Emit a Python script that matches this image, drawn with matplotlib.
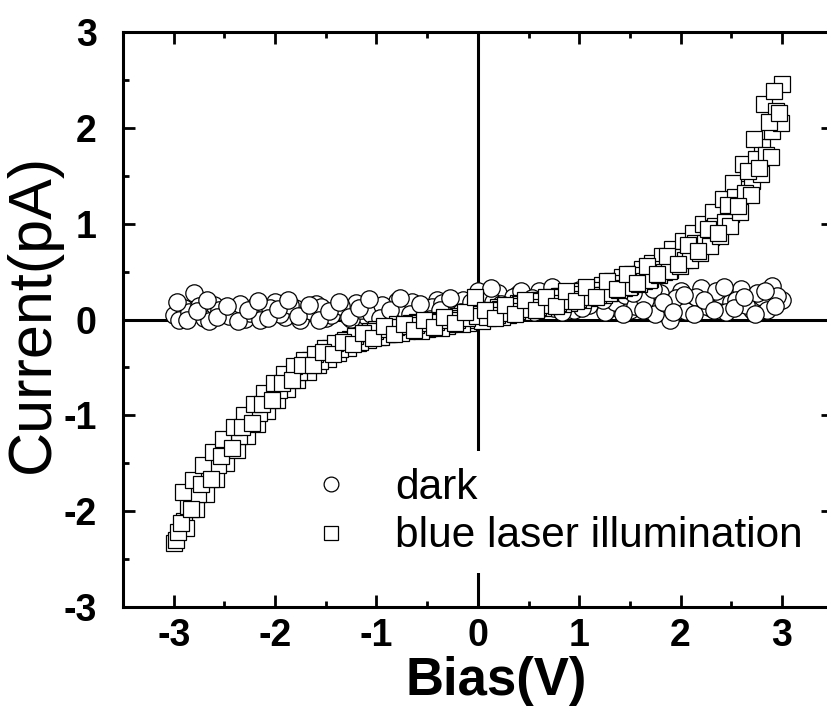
import numpy as np
import matplotlib
matplotlib.use('Agg')
import matplotlib.pyplot as plt
from matplotlib import rcParams
from matplotlib.ticker import MultipleLocator

rcParams['font.family'] = ['Liberation Sans', 'DejaVu Sans']
rcParams['axes.unicode_minus'] = False

# dark: three bias sweeps
dark_x1 = [-3.0, -2.9, -2.8, -2.7, -2.6, -2.5, -2.4, -2.3, -2.2, -2.1,
           -2.0, -1.9, -1.8, -1.7, -1.6, -1.5, -1.4, -1.3, -1.2, -1.1,
           -1.0, -0.9, -0.8, -0.7, -0.6, -0.5, -0.4, -0.3, -0.2, -0.1,
           0.0, 0.1, 0.2, 0.3, 0.4, 0.5, 0.6, 0.7, 0.8, 0.9,
           1.0, 1.1, 1.2, 1.3, 1.4, 1.5, 1.6, 1.7, 1.8, 1.9,
           2.0, 2.1, 2.2, 2.3, 2.4, 2.5, 2.6, 2.7, 2.8, 2.9, 3.0]
dark_y1 = [0.05, 0.12, 0.28, 0.02, 0.15, 0.06, 0.10, 0.01, 0.14, 0.05,
           0.18, 0.03, 0.12, 0.07, 0.16, 0.02, 0.11, 0.06, 0.17, 0.04,
           0.13, 0.08, 0.19, 0.05, 0.14, 0.09, 0.20, 0.07, 0.15, 0.10,
           0.30, 0.12, 0.28, 0.14, 0.27, 0.16, 0.30, 0.18, 0.25, 0.20,
           0.31, 0.15, 0.26, 0.12, 0.22, 0.10, 0.24, 0.14, 0.28, 0.00,
           0.30, 0.16, 0.33, 0.12, 0.26, 0.18, 0.32, 0.10, 0.24, 0.35, 0.20]
dark_x2 = [-2.95, -2.85, -2.75, -2.65, -2.55, -2.45, -2.35, -2.25, -2.15, -2.05,
           -1.95, -1.85, -1.75, -1.65, -1.55, -1.45, -1.35, -1.25, -1.15, -1.05,
           -0.95, -0.85, -0.75, -0.65, -0.55, -0.45, -0.35, -0.25, -0.15, -0.05,
           0.05, 0.15, 0.25, 0.35, 0.45, 0.55, 0.65, 0.75, 0.85, 0.95,
           1.05, 1.15, 1.25, 1.35, 1.45, 1.55, 1.65, 1.75, 1.85, 1.95,
           2.05, 2.15, 2.25, 2.35, 2.45, 2.55, 2.65, 2.75, 2.85, 2.95]
dark_y2 = [0.00, 0.08, 0.14, -0.02, 0.10, 0.04, 0.16, 0.07, 0.00, 0.12,
           0.06, 0.15, 0.00, 0.09, 0.13, 0.05, 0.14, 0.01, 0.10, 0.06,
           0.15, 0.03, 0.12, 0.18, 0.04, 0.13, 0.17, 0.05, 0.20, 0.12,
           0.22, 0.18, 0.10, 0.24, 0.20, 0.08, 0.22, 0.12, 0.28, 0.10,
           0.20, 0.27, 0.08, 0.18, 0.26, 0.14, 0.20, 0.06, 0.17, 0.22,
           0.09, 0.24, 0.14, 0.30, 0.08, 0.20, 0.15, 0.28, 0.10, 0.25]
dark_x3 = [-2.97, -2.87, -2.77, -2.67, -2.57, -2.47, -2.37, -2.27, -2.17, -2.07,
           -1.97, -1.87, -1.77, -1.67, -1.57, -1.47, -1.37, -1.27, -1.17, -1.07,
           -0.97, -0.87, -0.77, -0.67, -0.57, -0.47, -0.37, -0.27, -0.17, -0.07,
           0.03, 0.13, 0.23, 0.33, 0.43, 0.53, 0.63, 0.73, 0.83, 0.93,
           1.03, 1.13, 1.23, 1.33, 1.43, 1.53, 1.63, 1.73, 1.83, 1.93,
           2.03, 2.13, 2.23, 2.33, 2.43, 2.53, 2.63, 2.73, 2.83, 2.93]
dark_y3 = [0.18, -0.01, 0.09, 0.20, 0.03, 0.14, -0.02, 0.10, 0.19, 0.02,
           0.11, 0.20, 0.04, 0.15, -0.01, 0.09, 0.18, 0.03, 0.12, 0.21,
           0.02, 0.10, 0.22, 0.06, 0.16, 0.01, 0.10, 0.22, 0.08, 0.18,
           0.10, 0.33, 0.16, 0.06, 0.30, 0.22, 0.12, 0.34, 0.08, 0.20,
           0.12, 0.33, 0.20, 0.30, 0.06, 0.28, 0.10, 0.32, 0.18, 0.08,
           0.26, 0.06, 0.20, 0.10, 0.34, 0.12, 0.24, 0.06, 0.30, 0.14]

# blue laser illumination: five bias sweeps
blue_x1 = [-3.0, -2.9, -2.8, -2.7, -2.6, -2.5, -2.4, -2.3, -2.2, -2.1,
           -2.0, -1.9, -1.8, -1.7, -1.6, -1.5, -1.4, -1.3, -1.2, -1.1,
           -1.0, -0.9, -0.8, -0.7, -0.6, -0.5, -0.4, -0.3, -0.2, -0.1,
           0.0, 0.1, 0.2, 0.3, 0.4, 0.5, 0.6, 0.7, 0.8, 0.9,
           1.0, 1.1, 1.2, 1.3, 1.4, 1.5, 1.6, 1.7, 1.8, 1.9,
           2.0, 2.1, 2.2, 2.3, 2.4, 2.5, 2.6, 2.7, 2.8, 2.9, 3.0]
blue_y1 = [-2.33, -2.10, -1.80, -1.75, -1.50, -1.45, -1.22, -1.15, -0.95, -0.90,
           -0.72, -0.68, -0.52, -0.50, -0.40, -0.38, -0.27, -0.28, -0.17, -0.20,
           -0.10, -0.15, -0.05, -0.12, -0.03, -0.10, 0.00, -0.07, 0.04, -0.04,
           0.08, 0.02, 0.13, 0.05, 0.17, 0.10, 0.20, 0.14, 0.25, 0.17,
           0.29, 0.22, 0.33, 0.28, 0.40, 0.35, 0.47, 0.42, 0.55, 0.52,
           0.66, 0.69, 0.84, 0.86, 1.06, 1.10, 1.36, 1.45, 1.80, 1.97, 2.46]
blue_x2 = [-2.96, -2.86, -2.76, -2.66, -2.56, -2.46, -2.36, -2.26, -2.16, -2.06,
           -1.96, -1.86, -1.76, -1.66, -1.56, -1.46, -1.36, -1.26, -1.16, -1.06,
           -0.96, -0.86, -0.76, -0.66, -0.56, -0.46, -0.36, -0.26, -0.16, -0.06,
           0.04, 0.14, 0.24, 0.34, 0.44, 0.54, 0.64, 0.74, 0.84, 0.94,
           1.04, 1.14, 1.24, 1.34, 1.44, 1.54, 1.64, 1.74, 1.84, 1.94,
           2.04, 2.14, 2.24, 2.34, 2.44, 2.54, 2.64, 2.74, 2.84, 2.94]
blue_y2 = [-2.22, -1.95, -1.82, -1.60, -1.52, -1.30, -1.22, -1.02, -0.98, -0.78,
           -0.74, -0.58, -0.55, -0.42, -0.43, -0.30, -0.31, -0.20, -0.23, -0.12,
           -0.18, -0.08, -0.14, -0.04, -0.12, -0.02, -0.09, 0.02, -0.05, 0.06,
           -0.02, 0.10, 0.03, 0.14, 0.08, 0.19, 0.12, 0.23, 0.16, 0.27,
           0.20, 0.31, 0.26, 0.38, 0.33, 0.46, 0.40, 0.53, 0.50, 0.65,
           0.62, 0.80, 0.80, 0.98, 1.02, 1.28, 1.32, 1.68, 1.72, 2.18]
blue_x3 = [-2.93, -2.83, -2.73, -2.63, -2.53, -2.43, -2.33, -2.23, -2.13, -2.03,
           -1.93, -1.83, -1.73, -1.63, -1.53, -1.43, -1.33, -1.23, -1.13, -1.03,
           -0.93, -0.83, -0.73, -0.63, -0.53, -0.43, -0.33, -0.23, -0.13, -0.03,
           0.07, 0.17, 0.27, 0.37, 0.47, 0.57, 0.67, 0.77, 0.87, 0.97,
           1.07, 1.17, 1.27, 1.37, 1.47, 1.57, 1.67, 1.77, 1.87, 1.97,
           2.07, 2.17, 2.27, 2.37, 2.47, 2.57, 2.67, 2.77, 2.87, 2.97]
blue_y3 = [-2.12, -1.98, -1.72, -1.66, -1.42, -1.34, -1.12, -1.08, -0.88, -0.84,
           -0.66, -0.63, -0.47, -0.48, -0.34, -0.36, -0.23, -0.26, -0.14, -0.19,
           -0.07, -0.15, -0.05, -0.11, 0.00, -0.08, 0.03, -0.04, 0.08, 0.24,
           0.10, 0.02, 0.15, 0.06, 0.20, 0.10, 0.24, 0.14, 0.30, 0.19,
           0.34, 0.24, 0.40, 0.32, 0.48, 0.38, 0.56, 0.47, 0.66, 0.58,
           0.78, 0.72, 0.94, 0.90, 1.20, 1.18, 1.55, 1.58, 2.06, 2.15]
blue_x4 = [-2.98, -2.88, -2.78, -2.68, -2.58, -2.48, -2.38, -2.28, -2.18, -2.08,
           -1.98, -1.88, -1.78, -1.68, -1.58, -1.48, -1.38, -1.28, -1.18, -1.08,
           -0.98, -0.88, -0.78, -0.68, -0.58, -0.48, -0.38, -0.28, -0.18, -0.08,
           0.02, 0.12, 0.22, 0.32, 0.42, 0.52, 0.62, 0.72, 0.82, 0.92,
           1.02, 1.12, 1.22, 1.32, 1.42, 1.52, 1.62, 1.72, 1.82, 1.92,
           2.02, 2.12, 2.22, 2.32, 2.42, 2.52, 2.62, 2.72, 2.82, 2.92]
blue_y4 = [-2.30, -2.18, -1.98, -1.82, -1.66, -1.50, -1.36, -1.22, -1.09, -0.96,
           -0.84, -0.73, -0.63, -0.55, -0.48, -0.41, -0.35, -0.30, -0.25, -0.21,
           -0.18, -0.15, -0.13, -0.11, -0.10, -0.09, -0.07, -0.05, -0.03, 0.00,
           0.05, 0.09, 0.11, 0.14, 0.16, 0.18, 0.20, 0.22, 0.25, 0.27,
           0.30, 0.33, 0.36, 0.40, 0.44, 0.48, 0.53, 0.59, 0.66, 0.74,
           0.82, 0.90, 1.00, 1.12, 1.26, 1.42, 1.62, 1.88, 2.25, 2.38]
blue_x5 = [-2.91, -2.81, -2.71, -2.61, -2.51, -2.41, -2.31, -2.21, -2.11, -2.01,
           -1.91, -1.81, -1.71, -1.61, -1.51, -1.41, -1.31, -1.21, -1.11, -1.01,
           -0.91, -0.81, -0.71, -0.61, -0.51, -0.41, -0.31, -0.21, -0.11, -0.01,
           0.09, 0.19, 0.29, 0.39, 0.49, 0.59, 0.69, 0.79, 0.89, 0.99,
           1.09, 1.19, 1.29, 1.39, 1.49, 1.59, 1.69, 1.79, 1.89, 1.99,
           2.09, 2.19, 2.29, 2.39, 2.49, 2.59, 2.69, 2.79, 2.89, 2.99]
blue_y5 = [-1.80, -1.68, -1.52, -1.38, -1.25, -1.12, -1.00, -0.88, -0.77, -0.66,
           -0.57, -0.49, -0.42, -0.36, -0.30, -0.25, -0.21, -0.17, -0.14, -0.12,
           -0.10, -0.08, -0.07, -0.06, -0.04, -0.03, -0.01, 0.00, 0.02, 0.04,
           0.03, 0.05, 0.07, 0.09, 0.11, 0.13, 0.15, 0.17, 0.19, 0.21,
           0.23, 0.26, 0.28, 0.31, 0.34, 0.37, 0.41, 0.46, 0.51, 0.56,
           0.62, 0.69, 0.77, 0.87, 0.98, 1.12, 1.30, 1.52, 1.70, 2.05]

x_ticks = [-3, -2, -1, 0, 1, 2, 3]
x_ticklabels = ['-3', '-2', '-1', '0', '1', '2', '3']
y_ticks = [-3, -2, -1, 0, 1, 2, 3]
y_ticklabels = ['-3', '-2', '-1', '0', '1', '2', '3']

dark_x = np.array(dark_x1 + dark_x2 + dark_x3)
dark_y = np.array(dark_y1 + dark_y2 + dark_y3)
blue_x = np.array(blue_x1 + blue_x4 + blue_x2 + blue_x5 + blue_x3)
blue_y = np.array(blue_y1 + blue_y4 + blue_y2 + blue_y5 + blue_y3)

fig = plt.figure(figsize=(8.28, 7.10), dpi=100)
ax = fig.add_axes([0.1486, 0.1451, 0.857, 0.8098])

ax.axhline(0, color='black', lw=2.2, zorder=1)
ax.axvline(0, color='black', lw=2.2, zorder=1)

ax.plot(dark_x, dark_y, 'o', ms=12.5, mfc='white', mec='black', mew=0.9,
        label='dark', zorder=2)
ax.plot(blue_x, blue_y, 's', ms=12, mfc='white', mec='black', mew=0.9,
        label='blue laser illumination', zorder=3)

ax.set_xlim(-3.5, 3.5)
ax.set_ylim(-3, 3)
ax.set_xticks(x_ticks)
ax.set_xticklabels(x_ticklabels)
ax.set_yticks(y_ticks)
ax.set_yticklabels(y_ticklabels)
ax.xaxis.set_minor_locator(MultipleLocator(0.5))
ax.yaxis.set_minor_locator(MultipleLocator(0.5))

for s in ax.spines.values():
    s.set_linewidth(2.2)
ax.tick_params(which='both', direction='in', top=True, right=True, width=2)
ax.tick_params(which='major', length=8.5)
ax.tick_params(which='minor', length=4.5)
ax.tick_params(axis='x', which='major', pad=8)
ax.tick_params(axis='y', which='major', pad=19)
for lab in ax.get_xticklabels() + ax.get_yticklabels():
    lab.set_fontsize(27)
    lab.set_fontweight('bold')

ax.set_xlabel('Bias(V)', fontsize=38, fontweight='bold')
ax.xaxis.set_label_coords(0.526, -0.086)
ax.set_ylabel('Current(pA)', fontsize=44)
ax.yaxis.set_label_coords(-0.086, 0.51)

leg = ax.legend(loc='center', bbox_to_anchor=(0.603, 0.165), fontsize=30.5,
                frameon=True, facecolor='white', edgecolor='none', framealpha=1,
                handlelength=1.5, handletextpad=0.75, labelspacing=0.2,
                borderpad=0.4, markerscale=0.85)
leg.set_zorder(5)

fig.savefig('out.png', dpi=100)
